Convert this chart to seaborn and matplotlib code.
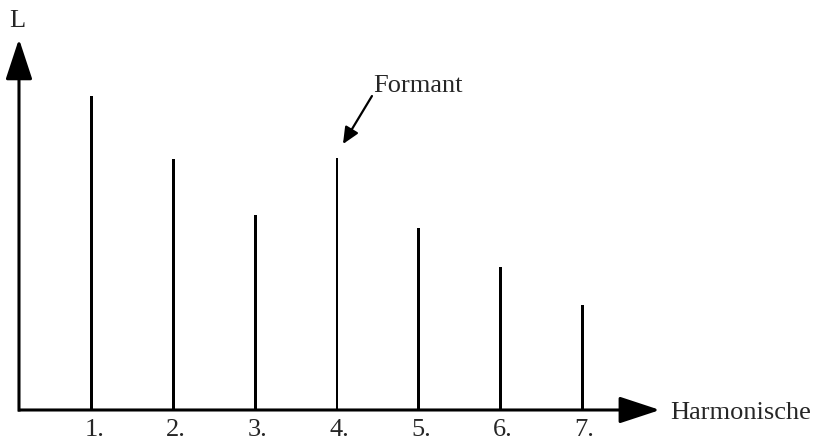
import matplotlib
matplotlib.use("Agg")
import matplotlib.pyplot as plt
import seaborn as sns
import pandas as pd

# Harmonic spectrum with a formant at the 4th harmonic
harmonics = [1, 2, 3, 4, 5, 6, 7]
levels = [100, 80, 62, 80.3, 58, 45.5, 33.5]
tick_labels = ["1.", "2.", "3.", "4.", "5.", "6.", "7."]
x_title = "Harmonische"
y_title = "L"
formant_label = "Formant"
formant_harmonic = 4

sns.set_theme(style="white")
plt.rcParams["font.family"] = ["Liberation Serif", "DejaVu Serif"]

df = pd.DataFrame({"harmonic": harmonics, "level": levels})

fig = plt.figure(figsize=(8.15, 4.39), dpi=100)
ax = fig.add_axes([0, 0, 1, 1])

sns.barplot(data=df, x="harmonic", y="level", native_scale=True,
            width=0.0367, color="black", saturation=1, ax=ax, edgecolor="none")

ax.set_xlim(-0.1265, 9.853)
ax.set_ylim(-8.92, 130.9)
ax.axis("off")

# axes drawn as arrows
x0 = 0.106
arrow_style = "-|>,head_length=2.52,head_width=0.83"
ax.annotate("", xy=(x0, 118.2), xytext=(x0, -0.5),
            arrowprops=dict(arrowstyle=arrow_style, lw=2.2, color="black",
                            mutation_scale=10, shrinkA=0, shrinkB=0,
                            capstyle="butt"))
ax.annotate("", xy=(7.955, 0), xytext=(x0 - 0.012, 0),
            arrowprops=dict(arrowstyle=arrow_style, lw=2.2, color="black",
                            mutation_scale=10, shrinkA=0, shrinkB=0,
                            capstyle="butt"))

fs = 19
ax.text(0.088, 124.2, y_title, ha="center", va="center", fontsize=fs)
ax.text(8.077, -2.4, x_title, ha="left", va="baseline", fontsize=fs)

for h, lab in zip(harmonics, tick_labels):
    ax.text(h + 0.03, -5.9, lab, ha="center", va="center", fontsize=fs)

# formant pointer
ax.annotate("", xy=(formant_harmonic + 0.073, 84.7),
            xytext=(formant_harmonic + 0.428, 100),
            arrowprops=dict(arrowstyle="-|>,head_length=1.0,head_width=0.45",
                            lw=1.6, color="black", mutation_scale=10,
                            shrinkA=0, shrinkB=0))
ax.text(formant_harmonic + 0.44, 101.6, formant_label, ha="left",
        va="baseline", fontsize=fs)

fig.savefig("out.png", dpi=100)
